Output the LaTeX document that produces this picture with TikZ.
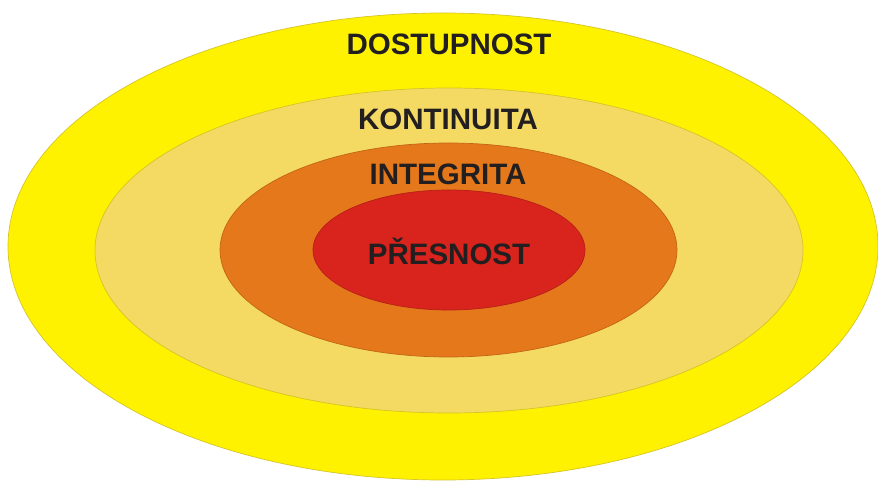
\documentclass[tikz,border=0pt]{standalone}
\usepackage{fontspec}
\setmainfont{Liberation Sans}
\usetikzlibrary{calc}
\definecolor{dostupnost}{RGB}{255,242,0}
\definecolor{kontinuita}{RGB}{244,218,98}
\definecolor{integrita}{RGB}{228,120,26}
\definecolor{presnost}{RGB}{216,36,28}
\definecolor{okraj}{RGB}{214,196,40}
\definecolor{pismo}{RGB}{35,31,32}
\begin{document}
\begin{tikzpicture}[x=0.02cm,y=-0.02cm,line width=0.4pt,
  vrstva/.style={draw=okraj},
  popis/.style={text=pismo,font=\fontsize{16.8}{20}\selectfont\bfseries,inner sep=0pt}]
\useasboundingbox (0,0) rectangle (878,482);
\coordinate (S1) at (443,246.5);
\coordinate (S2) at (449,250.5);
\coordinate (S3) at (448.5,250);
\coordinate (S4) at (449,250);
\draw[vrstva,fill=dostupnost] (S1) ellipse [x radius=435, y radius=233.5];
\draw[vrstva,fill=kontinuita] (S2) ellipse [x radius=354, y radius=162.5];
\draw[vrstva,draw=integrita!85!black,fill=integrita] (S3) ellipse [x radius=228.5, y radius=107];
\draw[vrstva,draw=presnost!85!black,fill=presnost] (S4) ellipse [x radius=136, y radius=60];
\node[popis] (dostupnost) at (449,44) {DOSTUPNOST};
\node[popis] (kontinuita) at (448,119) {KONTINUITA};
\node[popis] (integrita) at (448,174) {INTEGRITA};
\node[popis] (presnost) at (449,251) {PŘESNOST};
\end{tikzpicture}
\end{document}
